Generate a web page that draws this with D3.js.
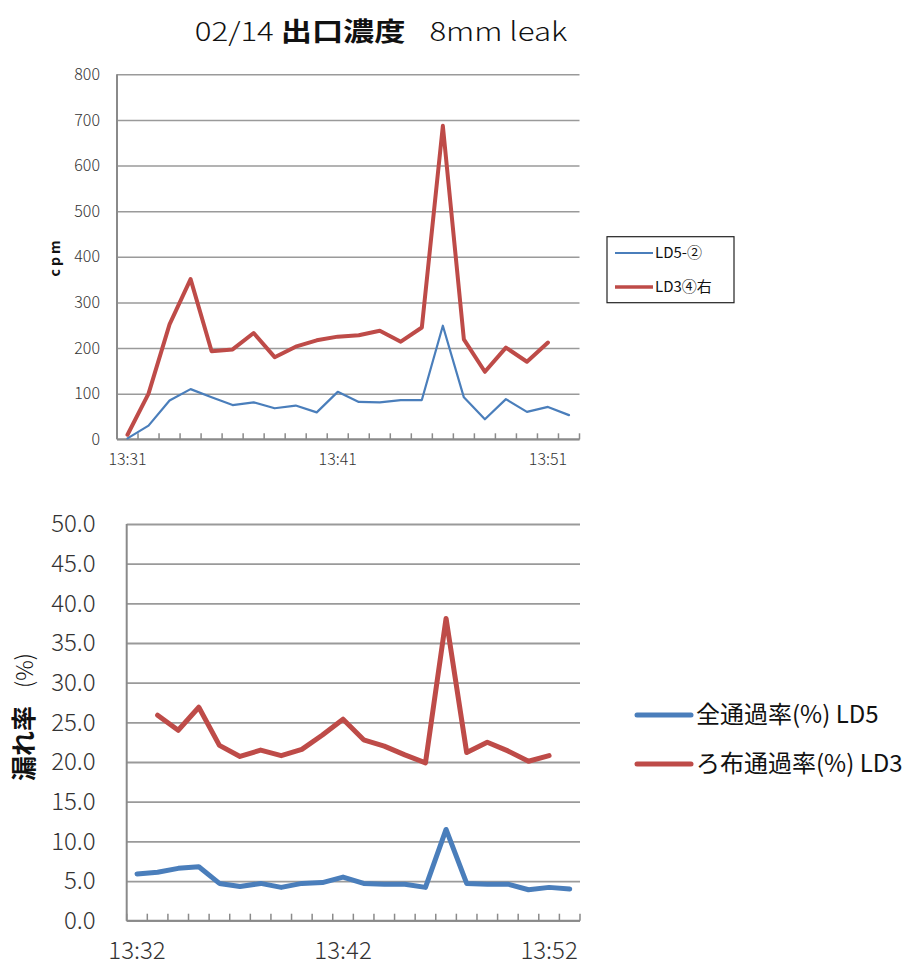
<!DOCTYPE html>
<html>
<head>
<meta charset="utf-8">
<script src="https://cdn.jsdelivr.net/npm/d3@7"></script>
<style>
  body { margin: 0; background: #fff; }
  svg { display: block; }
  text { font-family: "Noto Sans CJK JP", "Noto Sans", sans-serif; fill: #222; }
</style>
</head>
<body>
<svg id="chart" width="909" height="965"></svg>
<script>
// ---------- data ----------
const topCategories = ["13:31","13:32","13:33","13:34","13:35","13:36","13:37","13:38","13:39","13:40",
  "13:41","13:42","13:43","13:44","13:45","13:46","13:47","13:48","13:49","13:50","13:51","13:52"];
const topLabelTicks = ["13:31","13:41","13:51"];
const topYTicks = [0,100,200,300,400,500,600,700,800];
const ld5cpm = [2,30,85,110,92,75,81,68,74,59,104,82,81,86,86,249,92,44,88,60,71,53];
const ld3cpm = [10,100,252,351,193,197,233,180,203,217,225,228,238,214,245,687,219,148,201,170,212,null];

const botCategories = ["13:32","13:33","13:34","13:35","13:36","13:37","13:38","13:39","13:40","13:41",
  "13:42","13:43","13:44","13:45","13:46","13:47","13:48","13:49","13:50","13:51","13:52","13:53"];
const botLabelTicks = ["13:32","13:42","13:52"];
const botYTicks = [0,5,10,15,20,25,30,35,40,45,50];
const ld5rate = [5.9,6.1,6.6,6.8,4.7,4.3,4.7,4.2,4.7,4.8,5.5,4.7,4.6,4.6,4.2,11.5,4.7,4.6,4.6,3.9,4.2,4.0];
const ld3rate = [null,25.9,24.0,26.9,22.1,20.7,21.5,20.8,21.6,23.4,25.4,22.8,22.0,20.9,19.9,38.1,21.2,22.5,21.4,20.1,20.8,null];

const BLUE = "#4a7ebb";
const RED = "#be4b48";
const GRID = "#9a9a9a";
const TICKFONT = '"Noto Sans CJK JP", sans-serif';

const svg = d3.select("#chart");

// ---------- title ----------
const title = svg.append("text").attr("transform", "translate(381,41) scale(1.2,1)").attr("text-anchor", "middle")
  .style("font-size", "26px").style("font-weight", 300).style("fill", "#111");
title.append("tspan").text("02/14 ");
title.append("tspan").style("font-weight", "bold").text("出口濃度");
title.append("tspan").attr("dx", 20).text("8mm leak");

function drawChart(cfg) {
  const g = svg.append("g");
  const x = d3.scaleBand().domain(cfg.categories).range([cfg.left, cfg.right]).padding(0);
  const y = d3.scaleLinear().domain(cfg.yDomain).range([cfg.bottom, cfg.top]);
  const cx = c => x(c) + x.bandwidth() / 2;

  // gridlines + y labels
  const ya = g.append("g").attr("transform", `translate(${cfg.left},0)`)
    .call(d3.axisLeft(y).tickValues(cfg.yTicks).tickSize(-(cfg.right - cfg.left)).tickPadding(cfg.yPad)
      .tickFormat(cfg.yFormat));
  ya.select(".domain").remove();
  ya.selectAll(".tick line").attr("stroke", GRID).attr("stroke-width", cfg.gridW);
  ya.selectAll(".tick text").style("font-size", cfg.tickFont + "px").style("font-family", TICKFONT)
    .style("font-weight", 300).style("fill", "#333");

  // left axis line
  g.append("line").attr("x1", cfg.left).attr("x2", cfg.left).attr("y1", cfg.top).attr("y2", cfg.bottom)
    .attr("stroke", "#8a8a8a").attr("stroke-width", 2);
  // bottom axis line
  g.append("line").attr("x1", cfg.left).attr("x2", cfg.right).attr("y1", cfg.bottom).attr("y2", cfg.bottom)
    .attr("stroke", "#8a8a8a").attr("stroke-width", 2);

  // category boundary ticks (inside)
  const bounds = d3.range(cfg.categories.length + 1).map(i => cfg.left + i * x.bandwidth());
  g.append("g").selectAll("line").data(bounds).join("line")
    .attr("x1", d => d).attr("x2", d => d).attr("y1", cfg.bottom).attr("y2", cfg.bottom - cfg.tickLen)
    .attr("stroke", "#8a8a8a").attr("stroke-width", 1.5);

  // x labels
  const xa = g.append("g").attr("transform", `translate(0,${cfg.bottom})`)
    .call(d3.axisBottom(x).tickValues(cfg.labelTicks).tickSize(0).tickPadding(cfg.xPad));
  xa.select(".domain").remove();
  xa.selectAll(".tick text").style("font-size", cfg.tickFont + "px").style("font-family", TICKFONT)
    .style("font-weight", 300).style("fill", "#333");

  // lines
  cfg.series.forEach(s => {
    const line = d3.line().defined(d => d.v != null).x(d => cx(d.c)).y(d => y(d.v));
    g.append("path").datum(cfg.categories.map((c, i) => ({ c, v: s.values[i] })))
      .attr("d", line).attr("fill", "none").attr("stroke", s.color).attr("stroke-width", s.width)
      .attr("stroke-linejoin", "round").attr("stroke-linecap", "round");
  });
  return { x, y };
}

// ---------- top chart ----------
drawChart({
  categories: topCategories, labelTicks: topLabelTicks, yTicks: topYTicks, yDomain: [0, 800],
  left: 117, right: 579.5, top: 74.3, bottom: 439.3,
  yFormat: d3.format("d"), tickFont: 16, yPad: 17, xPad: 14, tickLen: 6, gridW: 1.5,
  series: [
    { values: ld5cpm, color: BLUE, width: 2.2 },
    { values: ld3cpm, color: RED, width: 4 }
  ]
});

svg.append("text").attr("transform", "translate(60,257) rotate(-90)").attr("text-anchor", "middle")
  .style("font-size", "14px").style("font-weight", "bold").style("letter-spacing", "3px")
  .style("fill", "#111").text("cpm");

// top legend
const lg1 = svg.append("g");
lg1.append("rect").attr("x", 607).attr("y", 236.7).attr("width", 127).attr("height", 66)
  .attr("fill", "#fff").attr("stroke", "#222").attr("stroke-width", 1.2);
[{ t: "LD5-②", c: BLUE, w: 2.2, yy: 253 }, { t: "LD3④右", c: RED, w: 3.5, yy: 287 }].forEach(e => {
  lg1.append("line").attr("x1", 615).attr("x2", 653).attr("y1", e.yy).attr("y2", e.yy)
    .attr("stroke", e.c).attr("stroke-width", e.w);
  lg1.append("text").attr("x", 655).attr("y", e.yy).attr("dy", "0.35em")
    .style("font-size", "15px").style("fill", "#111").text(e.t);
});

// ---------- bottom chart ----------
drawChart({
  categories: botCategories, labelTicks: botLabelTicks, yTicks: botYTicks, yDomain: [0, 50],
  left: 126.7, right: 580, top: 524, bottom: 920.7,
  yFormat: d3.format(".1f"), tickFont: 24, yPad: 31, xPad: 21, tickLen: 7, gridW: 1.8,
  series: [
    { values: ld5rate, color: BLUE, width: 5 },
    { values: ld3rate, color: RED, width: 5 }
  ]
});

const yl = svg.append("text").attr("transform", "translate(33,717) rotate(-90)").attr("text-anchor", "middle")
  .style("font-size", "25px").style("fill", "#111");
yl.append("tspan").style("font-weight", "bold").text("漏れ率");
yl.append("tspan").attr("dx", 18).style("font-size", "23px").style("font-weight", 300).text("(%)");

// bottom legend
const lg2 = svg.append("g");
[{ t: "全通過率(%) LD5", c: BLUE, yy: 715 }, { t: "ろ布通過率(%) LD3", c: RED, yy: 764 }].forEach(e => {
  lg2.append("line").attr("x1", 637).attr("x2", 691).attr("y1", e.yy).attr("y2", e.yy)
    .attr("stroke", e.c).attr("stroke-width", 5).attr("stroke-linecap", "round");
  lg2.append("text").attr("x", 696).attr("y", e.yy).attr("dy", "0.35em")
    .style("font-size", "24px").style("fill", "#111").text(e.t);
});
</script>
</body>
</html>
